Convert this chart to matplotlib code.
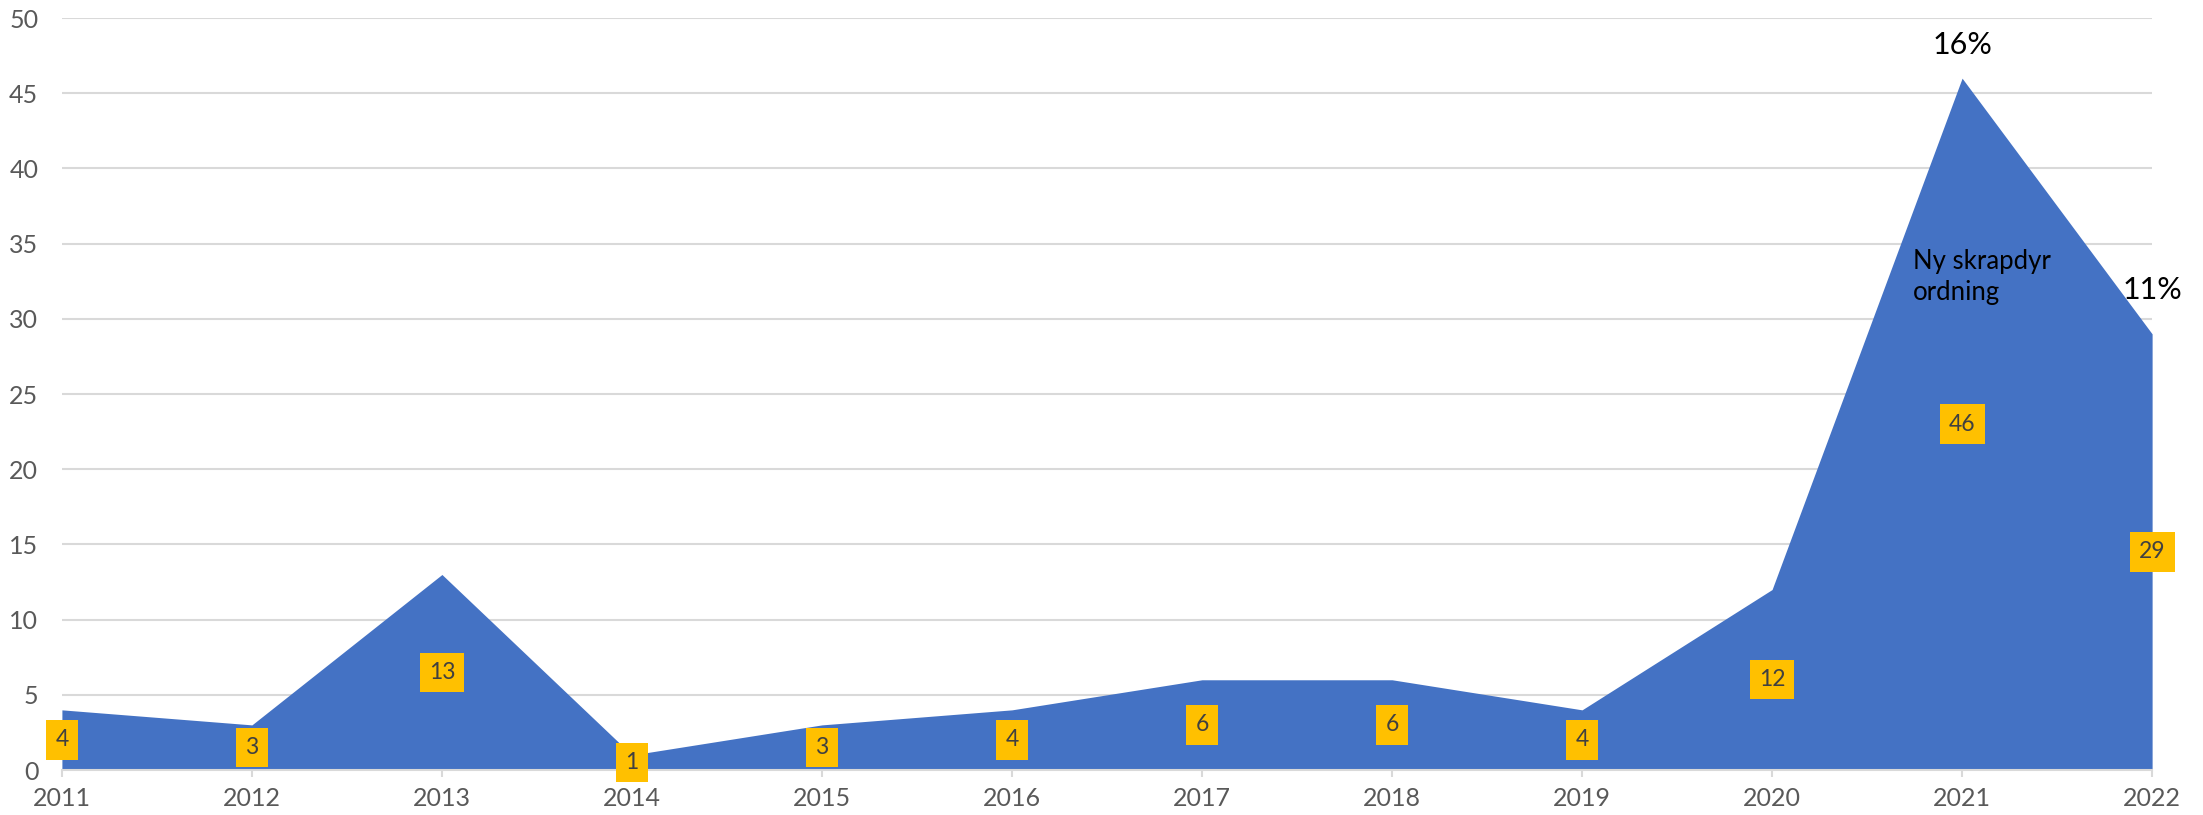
import matplotlib.pyplot as plt

years = [2011, 2012, 2013, 2014, 2015, 2016, 2017, 2018, 2019, 2020, 2021, 2022]
counts = [4, 3, 13, 1, 3, 4, 6, 6, 4, 12, 46, 29]
pct_years = [2021, 2022]
pct_labels = ["16%", "11%"]
pct_y = [48.2, 31.9]
note_text = "Ny skrapdyr\nordning"

plt.rcParams['font.family'] = ['Lato', 'DejaVu Sans']

fig = plt.figure(figsize=(22.03, 8.15), dpi=100)
ax = fig.add_axes([0.0281, 0.0552, 0.9488, 0.9227])

ax.fill_between(years, counts, 0, color='#4472C4', linewidth=0, zorder=2)

# etiketter midt i arealet
for x, v in zip(years, counts):
    ax.text(x, v / 2, str(v), ha='center', va='center', fontsize=16.5, color='#404040',
            bbox=dict(boxstyle='square,pad=0.4', fc='#FFC000', ec='none'), zorder=4)

for x, lab, y in zip(pct_years, pct_labels, pct_y):
    ax.text(x, y, lab, ha='center', va='center', fontsize=22, color='black', zorder=4)

ax.text(2020.74, 32.8, note_text, ha='left', va='center', fontsize=18.5, color='black',
        linespacing=1.3, zorder=4)

ax.set_xlim(2011, 2022)
ax.set_ylim(0, 50)
ax.set_yticks(range(0, 51, 5))
ax.set_xticks(years)
ax.grid(axis='y', color='#D9D9D9', linewidth=1.5, zorder=0)
ax.set_axisbelow(True)
for s in ['top', 'right', 'left']:
    ax.spines[s].set_visible(False)
ax.spines['bottom'].set_color('#D9D9D9')
ax.spines['bottom'].set_linewidth(1.5)
ax.tick_params(axis='y', length=0, pad=17, labelsize=18, labelcolor='#595959')
ax.tick_params(axis='x', length=5, width=1.5, color='#D9D9D9', pad=7, labelsize=18,
               labelcolor='#595959')

fig.savefig('out.png', dpi=100)
